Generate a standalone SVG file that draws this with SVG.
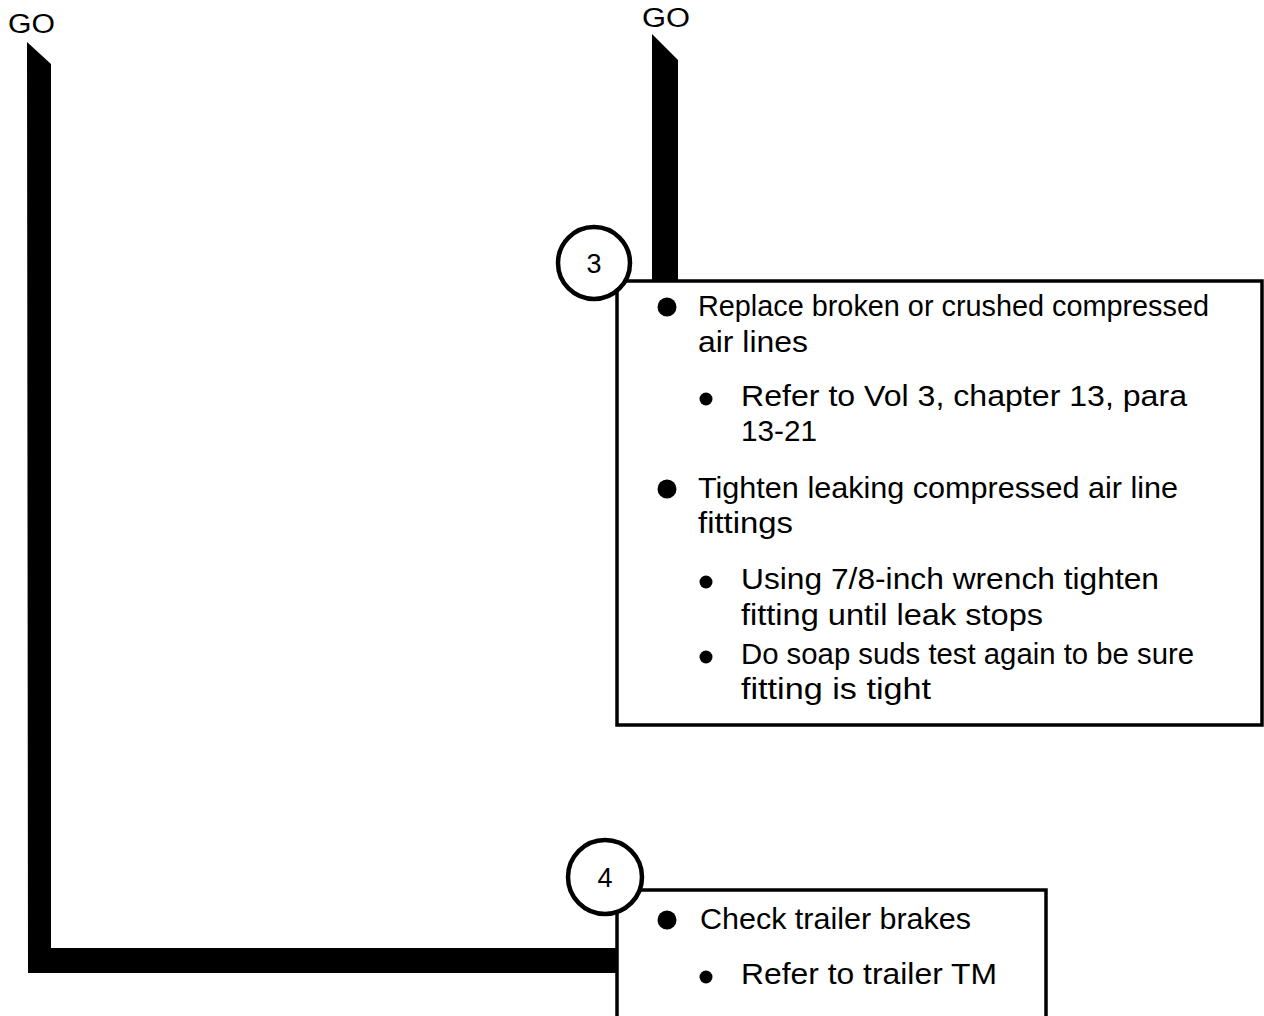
<svg xmlns="http://www.w3.org/2000/svg" width="1264" height="1016" viewBox="0 0 1264 1016">
<style>
.t{font-family:"Liberation Sans",Arial,sans-serif;font-size:29px;fill:#000}
.go{font-family:"Liberation Sans",Arial,sans-serif;font-size:27px;fill:#000}
.num{font-family:"Liberation Sans",Arial,sans-serif;font-size:27px;fill:#000;text-anchor:middle}
.box{fill:#fff;stroke:#000;stroke-width:3.5}
.circ{fill:#fff;stroke:#000;stroke-width:4.5}
</style>
<rect width="1264" height="1016" fill="#fff"/>
<g id="connectors">
  <path d="M27,42 L51,64 L51,948 L618,948 L618,973 L28,973 Z" fill="#000"/>
  <path d="M652,34 L678,60 L678,282 L652,282 Z" fill="#000"/>
</g>
<g id="go-left"><text class="go" x="8" y="33" textLength="47" lengthAdjust="spacingAndGlyphs">GO</text></g>
<g id="go-right"><text class="go" x="642" y="27" textLength="48" lengthAdjust="spacingAndGlyphs">GO</text></g>
<g id="box3">
  <rect class="box" x="617" y="281" width="645" height="444"/>
  <circle cx="667" cy="307" r="9.5"/>
  <text class="t" x="698" y="316" textLength="511" lengthAdjust="spacingAndGlyphs">Replace broken or crushed compressed</text>
  <text class="t" x="698" y="352" textLength="110" lengthAdjust="spacingAndGlyphs">air lines</text>
  <circle cx="706" cy="399" r="6.5"/>
  <text class="t" x="741" y="406" textLength="446" lengthAdjust="spacingAndGlyphs">Refer to Vol 3, chapter 13, para</text>
  <text class="t" x="741" y="441" textLength="76" lengthAdjust="spacingAndGlyphs">13-21</text>
  <circle cx="667" cy="489" r="9.5"/>
  <text class="t" x="698" y="498" textLength="480" lengthAdjust="spacingAndGlyphs">Tighten leaking compressed air line</text>
  <text class="t" x="698" y="533" textLength="95" lengthAdjust="spacingAndGlyphs">fittings</text>
  <circle cx="706" cy="582" r="6.5"/>
  <text class="t" x="741" y="589" textLength="418" lengthAdjust="spacingAndGlyphs">Using 7/8-inch wrench tighten</text>
  <text class="t" x="741" y="625" textLength="302" lengthAdjust="spacingAndGlyphs">fitting until leak stops</text>
  <circle cx="706" cy="657" r="6.5"/>
  <text class="t" x="741" y="664" textLength="453" lengthAdjust="spacingAndGlyphs">Do soap suds test again to be sure</text>
  <text class="t" x="741" y="699" textLength="190" lengthAdjust="spacingAndGlyphs">fitting is tight</text>
</g>
<g id="step3">
  <circle class="circ" cx="594" cy="263" r="36"/>
  <text class="num" x="594" y="273">3</text>
</g>
<g id="box4">
  <rect class="box" x="617" y="890" width="429" height="140"/>
  <circle cx="667" cy="920" r="9.5"/>
  <text class="t" x="700" y="929" textLength="271" lengthAdjust="spacingAndGlyphs">Check trailer brakes</text>
  <circle cx="706" cy="977" r="6.5"/>
  <text class="t" x="741" y="984" textLength="256" lengthAdjust="spacingAndGlyphs">Refer to trailer TM</text>
</g>
<g id="step4">
  <circle class="circ" cx="605" cy="877" r="37"/>
  <text class="num" x="605" y="887">4</text>
</g>
</svg>
